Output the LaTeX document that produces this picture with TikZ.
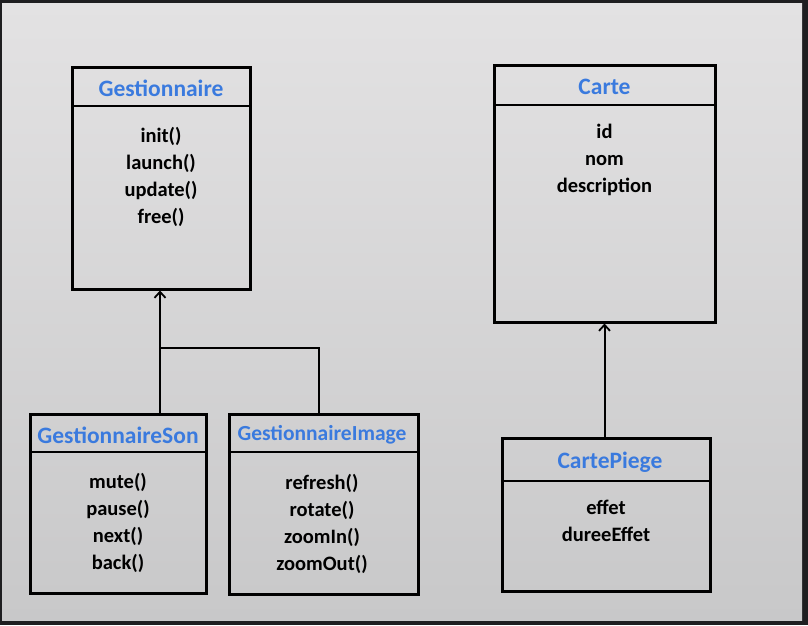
\documentclass[tikz,border=0pt]{standalone}
\usepackage{fontspec}
\setmainfont{Carlito}
\usetikzlibrary{arrows.meta}
\definecolor{titleblue}{RGB}{58,122,222}
\definecolor{frame}{RGB}{30,30,32}
\begin{document}
\begin{tikzpicture}[x=1pt,y=-1pt,
  umlbox/.style={draw=black,line width=3pt,inner sep=0pt},
  divider/.style={line width=2pt},
  ttl/.style={text=titleblue,font=\bfseries\fontsize{23.5}{26}\selectfont},
  mem/.style={align=center,inner sep=0pt,font=\bfseries\fontsize{20.5}{27}\selectfont},
  inherit/.style={line width=2pt,-{Straight Barb[length=6pt,width=11pt,line width=1.8pt]}},
  link/.style={line width=2pt}]
\useasboundingbox (0,0) rectangle (808,625);
\fill[frame] (0,0) rectangle (808,625);
\shade[top color={rgb,255:red,227;green,226;blue,227},bottom color={rgb,255:red,200;green,200;blue,201}] (2,3) rectangle (802,620);

% Gestionnaire
\node[umlbox,minimum width=178pt,minimum height=222pt] (G) at (161,178) {};
\draw[divider] (72,106) -- (250,106);
\node[ttl] (Gt) at (161,88) {Gestionnaire};
\node[mem,anchor=north] (Gm) at (161,127) {init()\\launch()\\update()\\free()};

% Carte
\node[umlbox,minimum width=221pt,minimum height=257pt] (C) at (604.5,193.5) {};
\draw[divider] (494,105) -- (715,105);
\node[ttl] (Ct) at (604.5,87) {Carte};
\node[mem,anchor=north] (Cm) at (604.5,124) {id\\nom\\description};

% GestionnaireSon
\node[umlbox,minimum width=176pt,minimum height=179pt] (S) at (118,503.5) {};
\draw[divider] (30,452) -- (206,452);
\node[ttl] (St) at (118,435) {GestionnaireSon};
\node[mem,anchor=north] (Sm) at (118,473) {mute()\\pause()\\next()\\back()};

% GestionnaireImage
\node[umlbox,minimum width=189pt,minimum height=180pt] (I) at (323.5,504) {};
\draw[divider] (229,452) -- (418,452);
\node[ttl,font=\bfseries\fontsize{21.5}{24}\selectfont] (It) at (322,435) {GestionnaireImage};
\node[mem,anchor=north] (Im) at (322,474) {refresh()\\rotate()\\zoomIn()\\zoomOut()};

% CartePiege
\node[umlbox,minimum width=208pt,minimum height=153pt] (P) at (606,514.5) {};
\draw[divider] (502,481) -- (710,481);
\node[ttl] (Pt) at (610,462) {CartePiege};
\node[mem,anchor=north] (Pm) at (606,500) {effet\\dureeEffet};

% connectors
\coordinate (J) at (160,348);
\draw[inherit] (S.north -| J) -- (G.south -| J);
\draw[link] (I.north -| 319,0) |- (J);
\draw[inherit] (P.north -| 604.5,0) -- (C.south -| 604.5,0);
\end{tikzpicture}
\end{document}
